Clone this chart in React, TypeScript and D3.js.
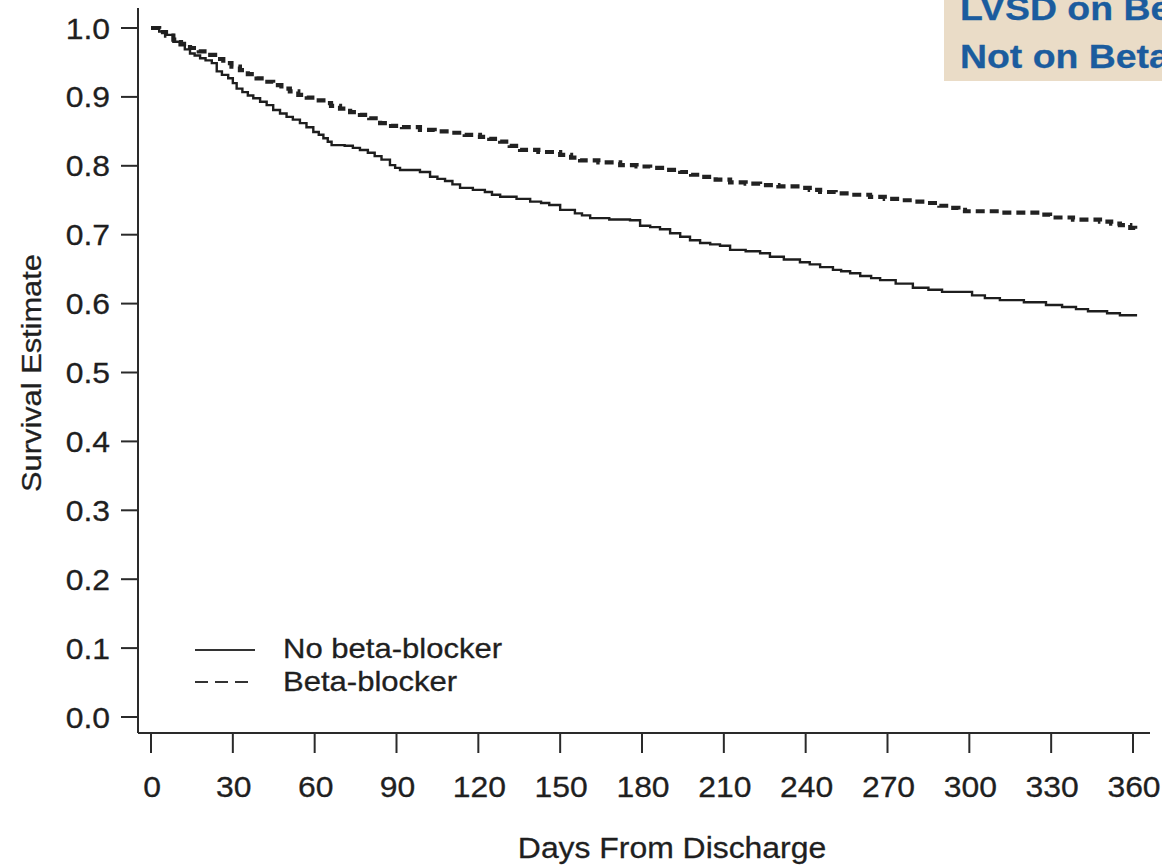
import React from "react";
import * as d3 from "d3";

// Kaplan–Meier survival estimates: [days from discharge, survival]
const noBetaBlocker: [number, number][] = [
  [0, 1.0], [3, 0.995], [5.5, 0.99], [8.2, 0.98], [10.5, 0.975], [12.4, 0.969],
  [14.3, 0.963], [16, 0.96], [18, 0.956], [20, 0.953], [22.3, 0.949], [24.1, 0.937],
  [26, 0.932], [28.3, 0.927], [30, 0.92], [31.4, 0.912], [33.5, 0.907], [35.5, 0.902],
  [37.5, 0.898], [40, 0.893], [42.4, 0.888], [44.8, 0.881], [47.3, 0.876], [49.7, 0.871],
  [52, 0.867], [54.6, 0.862], [57, 0.856], [59.5, 0.849], [61.5, 0.845], [63.2, 0.84],
  [64.8, 0.835], [66.2, 0.83], [71, 0.829], [74, 0.826], [76.6, 0.823], [79.5, 0.819],
  [82, 0.814], [84.5, 0.809], [87.6, 0.801], [89.5, 0.797], [91.3, 0.794], [98.6, 0.791],
  [102.3, 0.784], [105, 0.781], [107.8, 0.778], [110.5, 0.773], [113.3, 0.768],
  [118, 0.765], [122.4, 0.762], [125, 0.758], [128, 0.755], [134, 0.752], [139, 0.748],
  [143, 0.746], [146, 0.743], [150, 0.736], [155.4, 0.731], [158, 0.728], [161, 0.724],
  [168, 0.722], [175.6, 0.721], [179.3, 0.713], [183, 0.711], [186.6, 0.708],
  [190.3, 0.702], [194, 0.697], [197.6, 0.692], [201.3, 0.688], [205, 0.686],
  [208.6, 0.684], [212.3, 0.678], [218, 0.676], [223.3, 0.673], [226.9, 0.668],
  [232, 0.664], [237.9, 0.66], [241.5, 0.657], [245.3, 0.653], [250, 0.649],
  [253, 0.647], [256.3, 0.644], [260, 0.64], [264, 0.637], [267.3, 0.634], [273, 0.629],
  [279.3, 0.623], [285, 0.62], [290, 0.617], [301, 0.612], [305.7, 0.608],
  [311.2, 0.605], [320, 0.602], [328.1, 0.598], [334, 0.595], [339.1, 0.592],
  [343.5, 0.589], [350.5, 0.586], [355.2, 0.583], [361.5, 0.583],
];

const betaBlocker: [number, number][] = [
  [0, 1.0], [3, 0.994], [5.5, 0.989], [8.2, 0.983], [11, 0.977], [14.3, 0.971],
  [17.5, 0.966], [20.4, 0.961], [23.5, 0.955], [26.5, 0.949], [29.5, 0.944],
  [32.6, 0.939], [35.5, 0.933], [38.7, 0.927], [41.8, 0.922], [44.8, 0.917],
  [47.8, 0.912], [50.9, 0.908], [54, 0.903], [57.1, 0.899], [60, 0.895], [63.2, 0.891],
  [66, 0.887], [69.3, 0.883], [73, 0.878], [76.6, 0.874], [80, 0.869], [84, 0.862],
  [88, 0.858], [92, 0.856], [98.6, 0.852], [104, 0.85], [109.6, 0.848], [115, 0.845],
  [120.6, 0.842], [124, 0.839], [128, 0.835], [131.5, 0.829], [135.3, 0.823],
  [142, 0.82], [150, 0.816], [154, 0.812], [157.3, 0.808], [164, 0.805], [172, 0.801],
  [178, 0.799], [183, 0.797], [189, 0.794], [194, 0.791], [198, 0.787], [201.3, 0.784],
  [207, 0.78], [212.3, 0.776], [218, 0.774], [223.3, 0.772], [230, 0.77],
  [237.9, 0.768], [241.5, 0.765], [245.3, 0.762], [251, 0.76], [256.3, 0.758],
  [263.6, 0.755], [269, 0.752], [274.6, 0.75], [280, 0.748], [284.5, 0.746],
  [289, 0.742], [292.9, 0.739], [296, 0.736], [298.4, 0.734], [312, 0.732],
  [326, 0.729], [329.6, 0.725], [338, 0.722], [347.9, 0.719], [352, 0.716],
  [355.2, 0.714], [359, 0.71], [360.8, 0.708],
];

const xTicks = [0, 30, 60, 90, 120, 150, 180, 210, 240, 270, 300, 330, 360];
const yTicks = [0, 0.1, 0.2, 0.3, 0.4, 0.5, 0.6, 0.7, 0.8, 0.9, 1.0];

const seriesLabels = ["No beta-blocker", "Beta-blocker"];
const badgeLines = ["LVSD on Beta-Blocker vs", "Not on Beta-Blocker"];

const W = 1162;
const H = 867;
const FONT = "'Liberation Sans', Arial, Helvetica, sans-serif";
const INK = "#2a2a2a";
const TEXT = "#1f1f1f";

type TxtProps = {
  x: number;
  y: number;
  size: number;
  sx?: number;
  anchor?: "start" | "middle" | "end";
  rotate?: number;
  weight?: string;
  fill?: string;
  children: React.ReactNode;
};

// Text drawn slightly wide, as in the typeset figure
function Txt({ x, y, size, sx = 1.1, anchor = "start", rotate = 0, weight, fill = TEXT, children }: TxtProps) {
  return (
    <g transform={`translate(${x},${y}) rotate(${rotate}) scale(${sx},1)`}>
      <text
        x={0}
        y={0}
        fontSize={size}
        textAnchor={anchor}
        fontWeight={weight}
        fill={fill}
        stroke={fill}
        strokeWidth={0.3}
      >
        {children}
      </text>
    </g>
  );
}

export default function App() {
  const x = d3.scaleLinear().domain([0, 360]).range([151, 1133]);
  const y = d3.scaleLinear().domain([0, 1]).range([717, 28]);

  const axisX = 138;
  const axisY = 733;

  const line = d3
    .line<[number, number]>()
    .x((d) => x(d[0]))
    .y((d) => y(d[1]))
    .curve(d3.curveStepAfter);

  return (
    <svg
      width={W}
      height={H}
      style={{ position: "absolute", left: 0, top: 0, background: "#fff" }}
      fontFamily={FONT}
    >
      {/* header badge, running off the right edge */}
      <rect x={944} y={0} width={W - 944} height={81} fill="#eadcc7" />
      {badgeLines.map((t, i) => (
        <Txt key={t} x={960} y={20 + i * 48} size={34} sx={1.1} weight="bold" fill="#1b5c9e">
          {t}
        </Txt>
      ))}

      {/* y axis */}
      <line x1={axisX} x2={axisX} y1={8} y2={axisY} stroke={INK} strokeWidth={2} />
      {yTicks.map((t) => (
        <g key={t}>
          <line x1={121} x2={axisX} y1={y(t)} y2={y(t)} stroke={INK} strokeWidth={2} />
          <Txt x={110} y={y(t) + 10.5} size={29} anchor="end">
            {t.toFixed(1)}
          </Txt>
        </g>
      ))}

      {/* x axis */}
      <line x1={axisX} x2={1150} y1={axisY} y2={axisY} stroke={INK} strokeWidth={2} />
      {xTicks.map((t) => (
        <g key={t}>
          <line x1={x(t)} x2={x(t)} y1={axisY} y2={753} stroke={INK} strokeWidth={2} />
          <Txt x={x(t) + 1} y={797} size={29} anchor="middle">
            {t}
          </Txt>
        </g>
      ))}

      <Txt x={672} y={858} size={29} anchor="middle">
        Days From Discharge
      </Txt>
      <Txt x={41} y={373} size={28} anchor="middle" rotate={-90}>
        Survival Estimate
      </Txt>

      {/* survival curves */}
      <path
        d={line(betaBlocker) || ""}
        fill="none"
        stroke="#222"
        strokeWidth={4.2}
        strokeDasharray="9 5"
      />
      <path d={line(noBetaBlocker) || ""} fill="none" stroke="#1e1e1e" strokeWidth={2.4} />

      {/* legend */}
      <line x1={195} x2={255} y1={650} y2={650} stroke="#333" strokeWidth={2.2} />
      <line
        x1={195}
        x2={255}
        y1={682}
        y2={682}
        stroke="#333"
        strokeWidth={2.2}
        strokeDasharray="13 7"
      />
      {seriesLabels.map((t, i) => (
        <Txt key={t} x={283} y={658 + i * 33} size={27} sx={1.15}>
          {t}
        </Txt>
      ))}
    </svg>
  );
}
